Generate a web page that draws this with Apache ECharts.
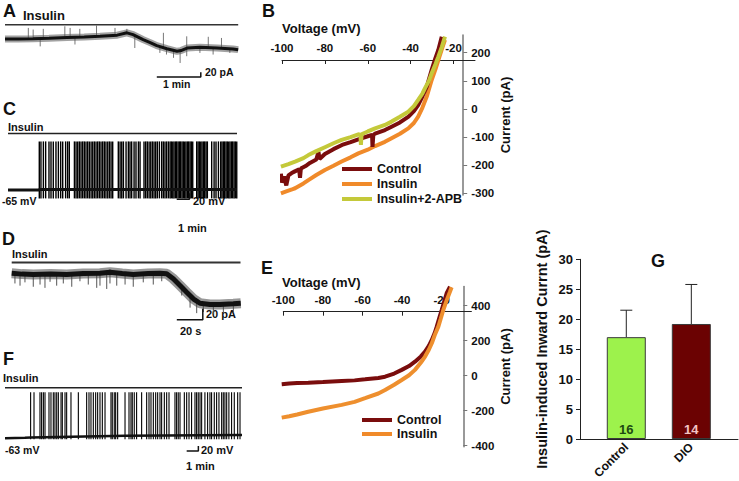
<!DOCTYPE html>
<html>
<head>
<meta charset="utf-8">
<script src="https://cdn.jsdelivr.net/npm/echarts@6/dist/echarts.min.js"></script>
<style>
html, body { margin: 0; padding: 0; background: #fff; }
#chart { width: 739px; height: 481px; }
</style>
</head>
<body>
<div id="chart"></div>
<script>
const FONT = 'Liberation Sans, Arial, sans-serif';

// A: holding current (min, pA), insulin
const traceA = [[0,0],[0.3,0],[0.64,1],[1.0,3],[1.41,6],[1.8,8],[2.16,11],[2.55,16],[2.77,26],[2.91,18],[3.14,-3],[3.3,-16],[3.45,-29],[3.68,-42],[3.91,-53],[4.0,-50],[4.14,-39],[4.43,-36],[4.82,-39],[5.18,-43],[5.3,-46]];
// noise excursions [t, from, to]
const glitchA = [[0.53,0,47],[0.64,1,40],[0.8,-32,2],[0.87,2,43],[1.36,4,54],[1.48,5,47],[1.59,-24,5],[1.7,5,43],[2.08,9,57],[2.5,15,47],[2.77,20,43],[2.95,-39,15],[3.52,-60,-35],[3.6,-38,26],[3.67,-67,-40],[3.83,-81,-45],[3.98,-103,-50],[4.13,-74,11],[4.43,-60,-36],[4.62,-37,9],[4.73,-67,-38],[4.92,-40,4],[5.11,-60,-40]];
const insulinA = [[0,61],[5.3,61]];
const scaleA = [[3.45,-163],[4.45,-163],[4.45,-143]];

// B: I-V curves (mV, pA)
const ivControlB = [[-100.5,-230],[-100,-262],[-99,-240],[-98,-272],[-97,-236],[-95.5,-228],[-94,-222],[-92,-215],[-91.6,-245],[-91.2,-212],[-89,-203],[-87,-192],[-84,-180],[-83,-152],[-82.5,-178],[-80,-160],[-76,-143],[-72,-128],[-68,-118],[-64.4,-108],[-60,-97],[-58,-92],[-57.8,-135],[-57.4,-92],[-56.6,-88],[-52,-75],[-48.9,-63],[-45,-48],[-41,-27],[-38.5,-8],[-36.5,14],[-34.5,45],[-32.5,79],[-30.2,139],[-28.5,180],[-27.1,210],[-25.5,257]];
const ivInsulinB = [[-100.5,-300],[-98,-293],[-95,-285],[-93.9,-282],[-90,-265],[-87.7,-253],[-84,-235],[-80,-217],[-76,-202],[-72.2,-187],[-68,-172],[-64.4,-158],[-60,-145],[-56.6,-132],[-52,-117],[-48.9,-104],[-45,-88],[-41.1,-69],[-38.5,-50],[-36.5,-27],[-34.5,5],[-32.5,44],[-30.2,103],[-28.5,140],[-27.1,174],[-25.5,212],[-24,246]];
const ivApbB = [[-100.5,-205],[-97,-196],[-93.9,-187],[-90,-175],[-87.7,-164],[-84,-150],[-80,-136],[-76,-122],[-72.2,-110],[-68,-100],[-64.4,-90],[-63.4,-92],[-63.2,-128],[-62.9,-90],[-60,-80],[-56.6,-69],[-52,-57],[-48.9,-45],[-45,-28],[-41.1,-10],[-38.5,10],[-36.5,32],[-34.5,55],[-33.3,74],[-31.5,100],[-30.2,127],[-28.5,158],[-27.1,186],[-25.5,220],[-24,257]];
const xTicksB = [-100, -80, -60, -40, -20];
const yTicksB = [-300, -200, -100, 0, 100, 200];

// C: firing (min, mV)
const baselineC = [[0,-65],[2.4,-65],[2.5,-63],[18,-63]];
const spikesC = [2.46,2.59,2.78,2.96,3.22,3.38,3.56,3.77,3.96,4.14,4.30,4.53,4.69,4.82,5.22,5.35,5.48,5.61,5.74,5.87,6.00,6.13,6.26,6.39,6.53,6.66,6.79,6.92,7.05,7.18,7.31,7.44,7.57,7.70,7.84,7.97,8.10,8.23,8.67,8.81,8.94,9.07,9.28,9.46,9.59,9.72,9.91,10.06,10.25,10.38,10.69,10.82,10.95,11.09,11.22,11.35,11.48,11.61,11.74,11.90,12.08,12.21,12.34,12.47,12.61,12.74,12.84,12.95,13.05,13.16,13.26,13.37,13.47,13.57,13.68,13.78,13.89,13.99,14.10,14.20,14.31,14.41,14.52,14.83,14.94,15.04,15.15,15.25,15.36,15.46,15.57,15.67,16.01,16.20,16.35,16.54,16.72,16.82,16.93,17.03,17.14,17.24,17.35,17.45,17.56,17.66,17.77,17.87,17.98];
const spikeRangeC = [-93, 97];
const insulinC = [[0,123],[18,123]];
const scaleC = [[13.26,-96],[14.26,-96],[14.26,-76]];

// D: holding current (s, pA)
const traceD = [[0,0.5],[8,-1],[16.6,-1.8],[30,-1],[42.3,-1.8],[55,0],[67.9,0.5],[75.6,2.4],[85,0],[93.5,-1.8],[105,0],[114,0.5],[119.2,-0.5],[124.3,-9.6],[129.5,-21.8],[134.6,-34],[139.7,-46],[144.8,-54],[152.5,-56.4],[160.2,-56.4],[170.5,-55],[176.2,-54]];
const glitchD = [[2.5,-18,0],[6.4,-22,0],[10.2,-16,0],[16.6,-24,-1],[21.8,-20,-1],[25.6,-26,-1],[29.5,-15,-1],[34.6,-22,-1],[39.7,-18,-1],[46.2,-24,-1],[52.5,-14,0],[58.9,-20,0],[65.4,-26,0],[67.9,-22,0],[73.1,-28,2],[75.6,-18,8],[80.8,-22,1],[87.2,-20,0],[93.5,-24,-1],[101.2,-16,0],[108.9,-20,0],[115.4,-14,0],[130.8,-40,-22],[137.2,-62,-40],[142.3,-72,-50],[147.4,-70,-52],[155.1,-74,-54],[162.8,-72,-54],[170.5,-70,-53]];
const insulinD = [[0,20],[176,20]];
const scaleD = [[127,-84],[147,-84],[147,-64]];

// E: I-V curves (mV, pA)
const ivControlE = [[-100.8,-49],[-97,-45],[-93,-42],[-87.4,-40],[-80,-36],[-70.5,-30],[-64,-27],[-58.7,-21],[-52,-13],[-48.6,-6],[-44,12],[-40.2,33],[-36.5,55],[-33.5,80],[-30.5,110],[-28.4,137],[-26.5,170],[-25,204],[-23.5,245],[-22.5,280],[-21.2,330],[-20,375],[-18.7,425],[-17.5,471],[-15.8,508]];
const ivInsulinE = [[-100.8,-240],[-97,-232],[-93,-222],[-87.4,-206],[-80,-188],[-70.5,-167],[-64,-150],[-58.7,-129],[-52,-102],[-48.6,-82],[-44,-52],[-40.2,-25],[-36.5,2],[-33.5,33],[-30.5,75],[-28.4,109],[-26.5,148],[-25,185],[-23.5,232],[-21.7,280],[-20.5,325],[-19.2,375],[-17.5,430],[-15.8,480],[-15,505]];
const xTicksE = [-100, -80, -60, -40, -20];
const yTicksE = [-400, -200, 0, 200, 400];

// F: firing (min, mV)
const baselineF = [[0,-68],[1.7,-66],[2.2,-65],[10.3,-58],[20.26,-55]];
const spikesF = [2.19,2.48,2.99,3.13,3.28,3.42,3.76,3.93,4.13,4.27,4.42,4.56,4.79,4.90,5.13,5.27,5.64,6.27,6.98,7.18,7.35,7.55,7.75,7.92,8.12,8.32,8.55,9.06,9.17,9.34,9.46,9.63,10.26,10.60,10.77,10.88,11.05,11.25,11.68,12.11,12.31,12.48,12.68,12.88,13.05,13.25,13.39,13.62,13.82,14.02,14.53,14.67,14.81,14.96,15.33,15.53,15.73,15.95,16.24,16.38,16.52,16.67,16.81,17.09,17.32,17.52,17.66,17.89,18.09,18.29,18.52,18.66,18.80,18.95,19.14,19.37,19.60,19.89,20.09];
const spikeRangeF = [-72, 116];
const insulinF = [[0,134],[20.26,134]];
const scaleF = [[15.53,-119],[16.53,-119],[16.53,-99]];

// G: bar chart
const gCats = ['Control', 'DIO'];
const gMeans = [17.0, 19.2];
const gErr = [4.5, 6.6];
const gN = ['16', '14'];

const labels = [
  ['A', 3, 11, 18], ['Insulin', 23, 15, 13], ['20 pA', 205, 72, 10.5], ['1 min', 163, 84, 10.5],
  ['B', 262, 11, 18], ['Voltage (mV)', 282, 28, 13],
  ['C', 3, 109, 18], ['Insulin', 8, 127, 11], ['-65 mV', 2, 201, 10.5], ['20 mV', 193, 201, 11], ['1 min', 178, 228, 11],
  ['D', 2, 239, 18], ['Insulin', 12, 254, 11], ['20 pA', 206, 314, 11], ['20 s', 180, 331, 11],
  ['E', 261, 268, 18], ['Voltage (mV)', 282, 282, 13],
  ['F', 3, 359, 18], ['Insulin', 3, 378, 11], ['-63 mV', 5, 450, 10.5], ['20 mV', 201, 450, 11], ['1 min', 186, 466, 11],
  ['G', 651, 261, 18]
];

const boldText = (size) => ({ fontSize: size, fontWeight: 'bold', fontFamily: FONT, color: '#111' });

function trace(name, idx, data, color, width, opacity) {
  return { type: 'line', name, xAxisIndex: idx, yAxisIndex: idx, data, showSymbol: false, symbol: 'none',
    silent: true, lineStyle: { color, width, opacity: opacity == null ? 1 : opacity }, itemStyle: { color } };
}
function vlines(idx, data, color, width) {
  return { type: 'custom', xAxisIndex: idx, yAxisIndex: idx, data, silent: true,
    renderItem: (params, api) => {
      const a = api.coord([api.value(0), api.value(1)]);
      const b = api.coord([api.value(0), api.value(2)]);
      return { type: 'line', shape: { x1: a[0], y1: a[1], x2: b[0], y2: b[1] }, style: { stroke: color, lineWidth: width } };
    } };
}
function hidden(idx, min, max) {
  return { gridIndex: idx, type: 'value', min, max, show: false };
}

const grids = [
  { left: 5, top: 5, width: 233.2, height: 90 },
  { left: 282, top: 35, width: 193, height: 160 },
  { left: 8, top: 124, width: 229, height: 81 },
  { left: 11.7, top: 245, width: 229, height: 90 },
  { left: 283.3, top: 286.4, width: 188.1, height: 160.3 },
  { left: 5, top: 380, width: 237, height: 80 },
  { left: 580, top: 259.3, width: 158, height: 179.7 }
].map(g => Object.assign({ outerBoundsMode: 'none', containLabel: false }, g));

function ivX(idx, min, max, offset, ticks) {
  return { gridIndex: idx, type: 'value', min, max, position: 'top', offset,
    axisLine: { onZero: false, lineStyle: { color: '#222', width: 1 } },
    axisTick: { inside: true, length: 4, customValues: ticks, lineStyle: { color: '#222' } },
    axisLabel: Object.assign({ customValues: ticks, margin: 6 }, boldText(11.5)),
    splitLine: { show: false } };
}
function ivY(idx, min, max, offset, ticks) {
  return { gridIndex: idx, type: 'value', min, max, position: 'right', offset,
    axisLine: { show: true, onZero: false, lineStyle: { color: '#777', width: 1.5 } },
    axisTick: { show: true, length: 4, customValues: ticks, lineStyle: { color: '#777' } },
    axisLabel: Object.assign({ customValues: ticks, margin: 8 }, boldText(11.5)),
    splitLine: { show: false },
    name: 'Current (pA)', nameLocation: 'middle', nameRotate: 90, nameGap: 36, nameTextStyle: boldText(13) };
}
const legendText = Object.assign({ lineHeight: 14 }, boldText(12.5));

const option = {
  animation: false,
  textStyle: { fontFamily: FONT },
  grid: grids,
  xAxis: [
    hidden(0, 0, 5.3),
    ivX(1, -100, -10, -25, xTicksB),
    hidden(2, 0, 18),
    hidden(3, 0, 176.15),
    ivX(4, -100, -5, -25.3, xTicksE),
    hidden(5, 0, 20.26),
    { gridIndex: 6, type: 'value', min: -0.712, max: 1.718,
      axisLine: { onZero: false, lineStyle: { color: '#222' } }, axisTick: { show: false },
      axisLabel: Object.assign({ customValues: [0, 1], formatter: v => gCats[Math.round(v)], rotate: 45, margin: 6 }, boldText(12)),
      splitLine: { show: false } }
  ],
  yAxis: [
    hidden(0, -240, 145),
    ivY(1, -306, 263, -11.8, yTicksB),
    hidden(2, -115, 155),
    hidden(3, -111.8, 52),
    ivY(4, -406, 510, -8.1, yTicksE),
    hidden(5, -155, 165),
    { gridIndex: 6, type: 'value', min: 0, max: 30, interval: 5,
      axisLine: { show: true, onZero: false, lineStyle: { color: '#222' } }, axisTick: { show: true, length: 4 },
      axisLabel: Object.assign({ margin: 7 }, boldText(13)),
      splitLine: { show: false },
      name: 'Insulin-induced Inward Currnt (pA)', nameLocation: 'middle', nameRotate: 90, nameGap: 31,
      nameTextStyle: boldText(14.5) }
  ],
  legend: [
    { data: ['Control', 'Insulin', 'Insulin+2-APB'], orient: 'vertical', left: 337, top: 157, padding: 5, icon: 'rect',
      itemWidth: 30, itemHeight: 4, itemGap: 1, selectedMode: false, textStyle: legendText },
    { data: ['Control', 'Insulin'], orient: 'vertical', left: 357, top: 408, padding: 5, icon: 'rect',
      itemWidth: 30, itemHeight: 4, itemGap: 0, selectedMode: false, textStyle: legendText }
  ],
  graphic: labels.map(([text, x, y, size]) => ({
    type: 'text', x, y, silent: true,
    style: { text, fontSize: size, fontWeight: 'bold', fontFamily: FONT, fill: '#111', align: 'left', verticalAlign: 'middle' }
  })),
  series: [
    // A
    trace('insulinA', 0, insulinA, '#333', 1.5),
    vlines(0, glitchA, '#777', 1),
    trace('bandA', 0, traceA, '#555', 7, 0.55),
    trace('traceA', 0, traceA, '#111', 3),
    trace('scaleA', 0, scaleA, '#111', 1.5),
    // B
    trace('Insulin', 1, ivInsulinB, '#f08a2a', 4),
    trace('Control', 1, ivControlB, '#7a0d0d', 4),
    trace('Insulin+2-APB', 1, ivApbB, '#c4c93a', 4),
    // C
    trace('insulinC', 2, insulinC, '#222', 1.5),
    vlines(2, spikesC.map(t => [t, spikeRangeC[0], spikeRangeC[1]]), '#000', 1.4),
    trace('baseC', 2, baselineC, '#111', 3),
    trace('scaleC', 2, scaleC, '#111', 1.5),
    // D
    trace('insulinD', 3, insulinD, '#333', 2),
    vlines(3, glitchD, '#555', 1),
    trace('bandD', 3, traceD, '#444', 10, 0.55),
    trace('traceD', 3, traceD, '#111', 5),
    trace('scaleD', 3, scaleD, '#111', 1.5),
    // E
    trace('Control', 4, ivControlE, '#7a0d0d', 4),
    trace('Insulin', 4, ivInsulinE, '#ee8f2e', 4),
    // F
    trace('insulinF', 5, insulinF, '#222', 1.5),
    vlines(5, spikesF.map(t => [t, spikeRangeF[0], spikeRangeF[1]]), '#000', 1.1),
    trace('baseF', 5, baselineF, '#111', 2.5),
    trace('scaleF', 5, scaleF, '#111', 1.5),
    // G
    { type: 'bar', xAxisIndex: 6, yAxisIndex: 6, barWidth: 39,
      data: gMeans.map((v, i) => ({ value: [i, v],
        itemStyle: { color: i === 0 ? '#9df24c' : '#6b0202', borderColor: '#3a3a3a', borderWidth: 1 },
        label: { color: i === 0 ? '#1d4a12' : '#f3c4c4' } })),
      label: Object.assign({ show: true, position: 'insideBottom', distance: 3, formatter: p => gN[p.dataIndex] }, boldText(13)) },
    { type: 'custom', xAxisIndex: 6, yAxisIndex: 6, z: 3, silent: true,
      data: gMeans.map((v, i) => [i, v, v + gErr[i]]),
      renderItem: (params, api) => {
        const b = api.coord([api.value(0), api.value(1)]);
        const t = api.coord([api.value(0), api.value(2)]);
        return { type: 'group', children: [
          { type: 'line', shape: { x1: b[0], y1: b[1], x2: t[0], y2: t[1] }, style: { stroke: '#222', lineWidth: 1 } },
          { type: 'line', shape: { x1: t[0] - 6, y1: t[1], x2: t[0] + 6, y2: t[1] }, style: { stroke: '#222', lineWidth: 1 } }
        ] };
      } }
  ]
};

const chart = echarts.init(document.getElementById('chart'), null, { renderer: 'svg' });
chart.setOption(option);
</script>
</body>
</html>
